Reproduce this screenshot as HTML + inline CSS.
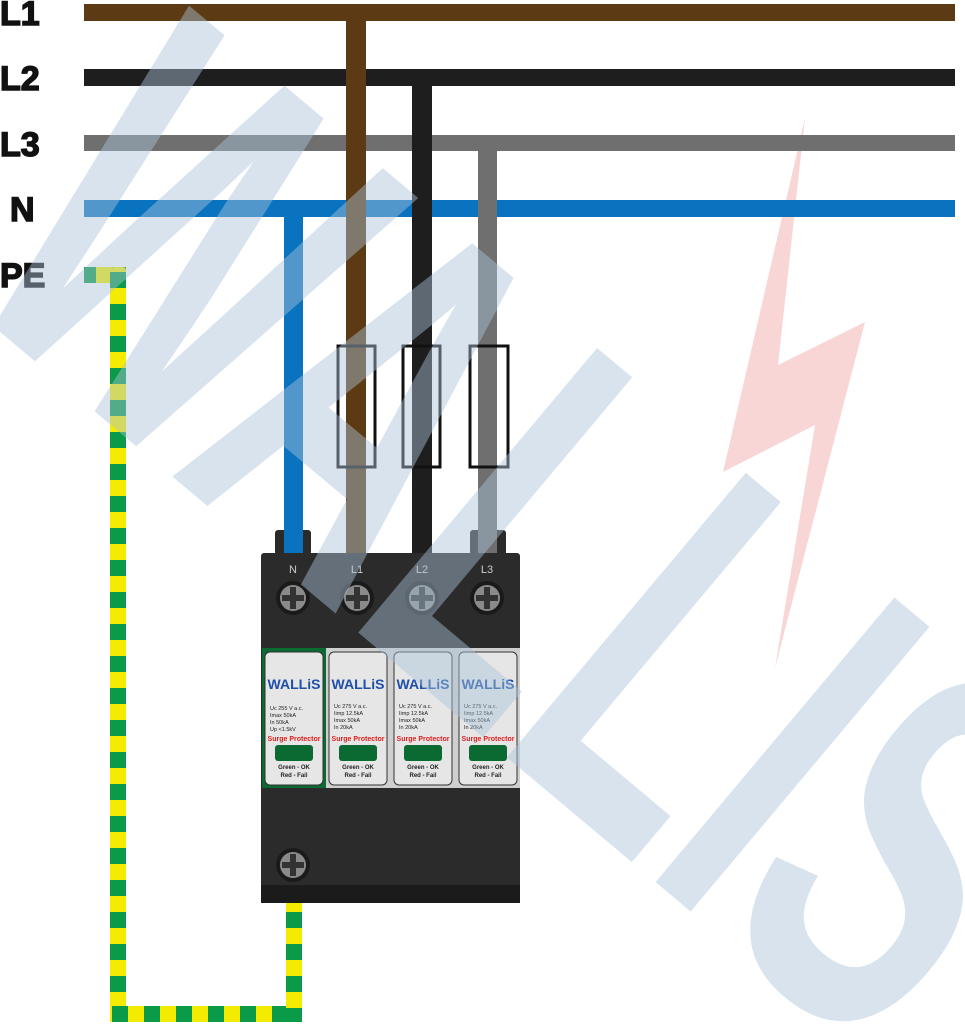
<!DOCTYPE html>
<html><head><meta charset="utf-8"><style>
html,body{margin:0;padding:0;background:#fff;overflow:hidden;width:965px;height:1024px;}
svg{display:block;font-family:"Liberation Sans",sans-serif;}
</style></head><body>
<svg width="965" height="1024" viewBox="0 0 965 1024" xmlns="http://www.w3.org/2000/svg" overflow="hidden">
<defs>
<pattern id="pe" width="16" height="32" patternUnits="userSpaceOnUse"><rect width="16" height="16" fill="#f4ec00"/><rect y="16" width="16" height="16" fill="#0a9a48"/></pattern>
<pattern id="peh" width="32" height="16" patternUnits="userSpaceOnUse"><rect width="16" height="16" fill="#f4ec00"/><rect x="16" width="16" height="16" fill="#0a9a48"/></pattern>
<g id="screw"><circle r="17" fill="#1a1a1a"/><circle r="13" fill="#8a8a8a"/><path d="M-11 -3h8v-8h6v8h8v6h-8v8h-6v-8h-8z" fill="#333"/></g>
</defs>
<polygon points="805,118 723,472 815,425 775,668 865,322 778,365" fill="#f6c4c4" opacity="0.7"/>
<g font-weight="bold" font-size="34" fill="#111" stroke="#111" stroke-width="1.5">
<text x="0" y="25">L1</text><text x="0" y="90">L2</text><text x="0" y="156">L3</text><text x="10" y="221">N</text><text x="0" y="287">PE</text>
</g>
<rect x="84" y="4" width="871" height="17" fill="#5c3a13"/>
<rect x="84" y="69" width="871" height="17" fill="#1e1e1e"/>
<rect x="84" y="135" width="871" height="16" fill="#6f6f6f"/>
<rect x="84" y="200" width="871" height="17" fill="#0a73c0"/>
<rect x="346" y="20" width="20" height="535" fill="#5c3a13"/>
<rect x="412" y="86" width="20" height="469" fill="#1e1e1e"/>
<rect x="478" y="151" width="19" height="404" fill="#6f6f6f"/>
<rect x="284" y="217" width="19" height="338" fill="#0a73c0"/>
<g fill="none" stroke="#111" stroke-width="3">
<rect x="338" y="346" width="37" height="121"/><rect x="403" y="346" width="37" height="121"/><rect x="470" y="346" width="38" height="121"/>
</g>
<rect x="84" y="267" width="42" height="16" fill="url(#peh)"/>
<rect x="110" y="267" width="16" height="755" fill="url(#pe)" rx="4"/>
<rect x="110" y="1006" width="192" height="16" fill="url(#peh)"/>
<rect x="286" y="893" width="16" height="129" fill="url(#pe)"/>
<rect x="275" y="530" width="36" height="25" fill="#2a2a2a" rx="3"/>
<rect x="470" y="530" width="36" height="25" fill="#2a2a2a" rx="3"/>
<rect x="284" y="530" width="19" height="25" fill="#0a73c0"/>
<rect x="478" y="530" width="19" height="25" fill="#6f6f6f"/>
<rect x="261" y="553" width="259" height="350" fill="#2b2b2b" rx="3"/>
<rect x="261" y="885" width="259" height="18" fill="#1b1b1b"/>
<g font-size="11" fill="#ccc" text-anchor="middle"><text x="293" y="573">N</text><text x="357" y="573">L1</text><text x="422" y="573">L2</text><text x="487" y="573">L3</text></g>
<use href="#screw" x="293" y="598"/><use href="#screw" x="357" y="598"/><use href="#screw" x="422" y="598"/><use href="#screw" x="487" y="598"/>
<use href="#screw" x="293" y="865"/>
<rect x="262" y="648" width="64" height="140" fill="#0a6a32"/>
<rect x="326" y="648" width="194" height="140" fill="#cfcfcf"/>
<g>
<rect x="265" y="652" width="58" height="133" rx="5" fill="#e6e6e6" stroke="#333"/>
<rect x="329" y="652" width="58" height="133" rx="5" fill="#e6e6e6" stroke="#333"/>
<rect x="394" y="652" width="58" height="133" rx="5" fill="#e6e6e6" stroke="#333"/>
<rect x="459" y="652" width="58" height="133" rx="5" fill="#e6e6e6" stroke="#333"/>
</g>
<g font-weight="bold" text-anchor="middle">
<g fill="#1e4fa8" font-size="14"><text x="294" y="689">WALLiS</text><text x="358" y="689">WALLiS</text><text x="423" y="689">WALLiS</text><text x="488" y="689">WALLiS</text></g>
<g fill="#e02020" font-size="7"><text x="294" y="741">Surge Protector</text><text x="358" y="741">Surge Protector</text><text x="423" y="741">Surge Protector</text><text x="488" y="741">Surge Protector</text></g>
<g fill="#222" font-size="6"><text x="294" y="769">Green - OK</text><text x="294" y="777">Red - Fail</text><text x="358" y="769">Green - OK</text><text x="358" y="777">Red - Fail</text><text x="423" y="769">Green - OK</text><text x="423" y="777">Red - Fail</text><text x="488" y="769">Green - OK</text><text x="488" y="777">Red - Fail</text></g>
</g>
<g fill="#222" font-size="5.5">
<text x="270" y="710">Uc 255 V a.c.</text><text x="270" y="717">Imax 50kA</text><text x="270" y="724">In 50kA</text><text x="270" y="731">Up &lt;1.5kV</text>
<text x="334" y="708">Uc 275 V a.c.</text><text x="334" y="715">Iimp 12.5kA</text><text x="334" y="722">Imax 50kA</text><text x="334" y="729">In 20kA</text>
<text x="399" y="708">Uc 275 V a.c.</text><text x="399" y="715">Iimp 12.5kA</text><text x="399" y="722">Imax 50kA</text><text x="399" y="729">In 20kA</text>
<text x="464" y="708">Uc 275 V a.c.</text><text x="464" y="715">Iimp 12.5kA</text><text x="464" y="722">Imax 50kA</text><text x="464" y="729">In 20kA</text>
</g>
<g fill="#0a6a32"><rect x="275" y="745" width="38" height="16" rx="3"/><rect x="339" y="745" width="38" height="16" rx="3"/><rect x="404" y="745" width="38" height="16" rx="3"/><rect x="469" y="745" width="38" height="16" rx="3"/></g>
<text x="0" y="0" transform="translate(-50,290) rotate(40)" font-size="540" font-weight="bold" fill="#aac3d9" opacity="0.45" textLength="1200" lengthAdjust="spacingAndGlyphs">WALLIS</text>
</svg>
</body></html>
